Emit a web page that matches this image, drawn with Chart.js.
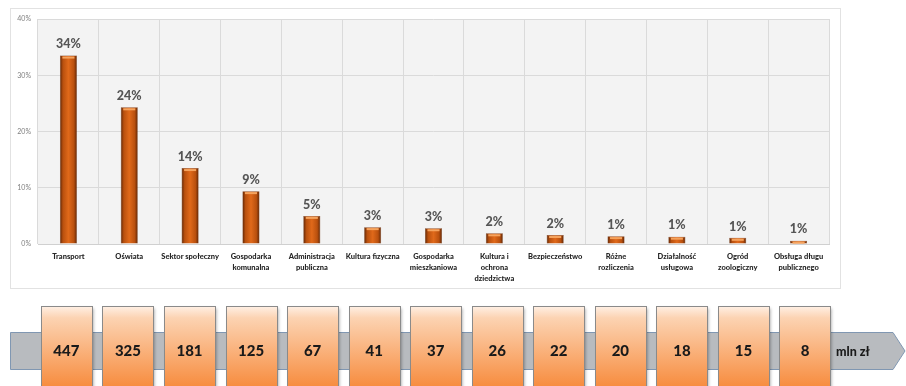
<!DOCTYPE html>
<html>
<head>
<meta charset="utf-8">
<script src="https://cdn.jsdelivr.net/npm/chart.js@4"></script>
<style>
  html, body { margin: 0; padding: 0; background: #fff; }
</style>
</head>
<body>
<canvas id="budget" width="906" height="386"></canvas>
<script>
// --- DATA ---
const categories = [
    'Transport',
    'Oświata',
    'Sektor społeczny',
    ['Gospodarka', 'komunalna'],
    ['Administracja', 'publiczna'],
    'Kultura fizyczna',
    ['Gospodarka', 'mieszkaniowa'],
    ['Kultura i', 'ochrona', 'dziedzictwa'],
    'Bezpieczeństwo',
    ['Różne', 'rozliczenia'],
    ['Działalność', 'usługowa'],
    ['Ogród', 'zoologiczny'],
    ['Obsługa długu', 'publicznego']
];
// share of total spending, %
const shares = [33.5, 24.3, 13.5, 9.4, 5.0, 3.0, 2.8, 1.9, 1.6, 1.4, 1.3, 1.1, 0.6];
// amounts, mln zł
const amounts = [447, 325, 181, 125, 67, 41, 37, 26, 22, 20, 18, 15, 8];
const yTicks = [0, 10, 20, 30, 40];
const unitLabel = 'mln zł';

const FONT = 'Lato, "DejaVu Sans", sans-serif';

// --- BAR FILL: dark edges, bright middle, like a rounded column ---
function barFill(ctx) {
    const chart = ctx.chart;
    const xs = chart.scales.x;
    if (!xs || ctx.dataIndex === undefined) return '#d9621a';
    const cx = xs.getPixelForValue(ctx.dataIndex);
    if (!isFinite(cx)) return '#d9621a';
    const hw = 8.5;
    const g = chart.ctx.createLinearGradient(cx - hw, 0, cx + hw, 0);
    g.addColorStop(0, '#5e2505');
    g.addColorStop(0.18, '#b9500e');
    g.addColorStop(0.5, '#e0691a');
    g.addColorStop(0.82, '#b9500e');
    g.addColorStop(1, '#5e2505');
    return g;
}

// frame + plot background
const backdrop = {
    id: 'backdrop',
    beforeDraw(chart) {
        const { ctx, chartArea: a } = chart;
        ctx.save();
        ctx.strokeStyle = '#e2e2e2';
        ctx.lineWidth = 1;
        ctx.strokeRect(10.5, 8.5, 830, 280);
        ctx.fillStyle = '#f3f3f3';
        ctx.fillRect(a.left, a.top, a.right - a.left, a.bottom - a.top);
        ctx.restore();
    }
};

// top highlight on each bar and the percentage above it
const barLabels = {
    id: 'barLabels',
    afterDatasetsDraw(chart) {
        const ctx = chart.ctx;
        const meta = chart.getDatasetMeta(0);
        ctx.save();
        meta.data.forEach((bar, i) => {
            const w = bar.width;
            ctx.fillStyle = '#f5a35e';
            ctx.fillRect(bar.x - w / 2 + 2.5, bar.y + 1, w - 5, 2);
            ctx.font = '900 12.5px ' + FONT;
            ctx.fillStyle = '#555555';
            ctx.textAlign = 'center';
            ctx.textBaseline = 'bottom';
            ctx.fillText(Math.round(shares[i]) + '%', bar.x, bar.y - 5);
        });
        ctx.restore();
    }
};

// gray arrow with the amount boxes underneath
const amountStrip = {
    id: 'amountStrip',
    afterDraw(chart) {
        const ctx = chart.ctx;
        const xs = chart.scales.x;
        const top = 332, bot = 370, mid = (top + bot) / 2;
        ctx.save();

        ctx.beginPath();
        ctx.moveTo(10.5, top + 0.5);
        ctx.lineTo(893, top + 0.5);
        ctx.lineTo(905, mid);
        ctx.lineTo(893, bot - 0.5);
        ctx.lineTo(10.5, bot - 0.5);
        ctx.closePath();
        ctx.fillStyle = '#b8bbbf';
        ctx.fill();
        ctx.strokeStyle = '#8097b2';
        ctx.lineWidth = 1;
        ctx.stroke();

        const bw = 51, bTop = 306, bBot = 392;
        amounts.forEach((v, i) => {
            // boxes run on a slightly wider pitch than the columns
            const cx = xs.getPixelForValue(i) + i * 0.7 - 2;
            const x0 = Math.round(cx - bw / 2) + 0.5;
            ctx.save();
            ctx.shadowColor = 'rgba(0,0,0,0.35)';
            ctx.shadowBlur = 3;
            ctx.shadowOffsetX = 1;
            ctx.shadowOffsetY = 1;
            const g = ctx.createLinearGradient(0, bTop, 0, 386);
            g.addColorStop(0, '#fff1e6');
            g.addColorStop(0.15, '#fcd3b2');
            g.addColorStop(1, '#f78d40');
            ctx.fillStyle = g;
            ctx.fillRect(x0, bTop + 0.5, bw, bBot - bTop);
            ctx.restore();
            ctx.strokeStyle = '#8a8a8a';
            ctx.strokeRect(x0, bTop + 0.5, bw, bBot - bTop);

            ctx.font = '900 15px ' + FONT;
            ctx.fillStyle = '#1a1a1a';
            ctx.textAlign = 'center';
            ctx.textBaseline = 'middle';
            ctx.fillText(String(v), cx, mid);
        });

        ctx.font = '900 12.5px ' + FONT;
        ctx.fillStyle = '#1a1a1a';
        ctx.textAlign = 'left';
        ctx.textBaseline = 'middle';
        ctx.fillText(unitLabel, 836, mid + 1);
        ctx.restore();
    }
};

new Chart(document.getElementById('budget'), {
    type: 'bar',
    data: {
        labels: categories,
        datasets: [{
            data: shares,
            backgroundColor: barFill,
            borderColor: '#6a2a05',
            borderWidth: 0.5,
            barPercentage: 0.28,
            categoryPercentage: 1
        }]
    },
    options: {
        responsive: false,
        animation: false,
        devicePixelRatio: 1,
        layout: { padding: { left: 10, right: 77, top: 19, bottom: 96 } },
        plugins: {
            legend: { display: false },
            tooltip: { enabled: false }
        },
        scales: {
            x: {
                grid: { offset: true, color: '#dadada', drawTicks: false },
                border: { color: '#d0d0d0' },
                ticks: {
                    autoSkip: false,
                    maxRotation: 0,
                    padding: 7,
                    color: '#262626',
                    font: { family: FONT, size: 7.5, weight: '900', lineHeight: 1.45 }
                },
                afterFit(s) { s.height = 46; }
            },
            y: {
                min: yTicks[0],
                max: yTicks[yTicks.length - 1],
                afterBuildTicks(s) { s.ticks = yTicks.map(v => ({ value: v })); },
                grid: { color: '#dadada', drawTicks: false },
                border: { display: false },
                ticks: {
                    padding: 7,
                    color: '#7f7f7f',
                    font: { family: FONT, size: 7 },
                    callback: v => v + '%'
                },
                afterFit(s) { s.width = 28; }
            }
        }
    },
    plugins: [backdrop, barLabels, amountStrip]
});
</script>
</body>
</html>
